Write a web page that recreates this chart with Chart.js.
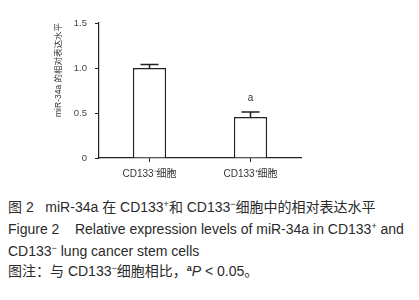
<!DOCTYPE html>
<html>
<head>
<meta charset="utf-8">
<script src="https://cdn.jsdelivr.net/npm/chart.js@4.4.1/dist/chart.umd.min.js"></script>
<style>
  html, body { margin: 0; padding: 0; background: #fff; }
  body { width: 419px; height: 300px; position: relative; overflow: hidden; }
  #wrap { position: absolute; left: 0; top: 0; width: 419px; height: 190px; }
  .cap {
    position: absolute; left: 8px; white-space: nowrap;
    font-family: "Liberation Sans", "Noto Sans CJK SC", sans-serif;
    font-size: 14px; line-height: 20px; color: #2a2a2a;
  }
  .cap sup { font-size: 9px; vertical-align: 5px; line-height: 0; }
</style>
</head>
<body>
<div id="wrap"><canvas id="barChart"></canvas></div>

<div class="cap" style="top:197px">图 2&nbsp;&nbsp;&nbsp;miR-34a 在 CD133<sup>+</sup>和 CD133<sup>−</sup>细胞中的相对表达水平</div>
<div class="cap" style="top:219px">Figure 2&nbsp;&nbsp;&nbsp;&nbsp;Relative expression levels of miR-34a in CD133<sup>+</sup> and</div>
<div class="cap" style="top:241px">CD133<sup>−</sup> lung cancer stem cells</div>
<div class="cap" style="top:261px">图注：与 CD133<sup>−</sup>细胞相比，<sup><b>a</b></sup><i>P</i> &lt; 0.05。</div>

<script>
// data
const categories = ["CD133⁻细胞", "CD133⁺细胞"];
const means = [1.0, 0.455];
const errors = [0.04, 0.055];
const sigLabels = ["", "a"];
const yTicks = [0, 0.5, 1.0, 1.5];

const fontFamily = '"Liberation Sans", "Noto Sans CJK SC", sans-serif';
const ink = "#222";

// error bars + significance letter
const errorBarPlugin = {
  id: "errorBars",
  afterDatasetsDraw(chart) {
    const ctx = chart.ctx;
    const yScale = chart.scales.y;
    const meta = chart.getDatasetMeta(0);
    ctx.save();
    ctx.strokeStyle = ink;
    ctx.lineWidth = 1.5;
    meta.data.forEach((bar, i) => {
      const yTop = yScale.getPixelForValue(means[i] + errors[i]);
      const yBar = yScale.getPixelForValue(means[i]);
      ctx.beginPath();
      ctx.moveTo(bar.x, yBar);
      ctx.lineTo(bar.x, yTop);
      ctx.moveTo(bar.x - 9, yTop);
      ctx.lineTo(bar.x + 9, yTop);
      ctx.stroke();
      if (sigLabels[i]) {
        ctx.fillStyle = "#333";
        ctx.font = "10px " + fontFamily;
        ctx.textAlign = "center";
        ctx.textBaseline = "middle";
        ctx.fillText(sigLabels[i], bar.x, yTop - 14);
      }
    });
    ctx.restore();
  },
};

const ctx = document.getElementById("barChart").getContext("2d");
new Chart(ctx, {
  type: "bar",
  data: {
    labels: categories,
    datasets: [
      {
        data: means,
        backgroundColor: "#fff",
        borderColor: ink,
        borderWidth: 1.5,
        borderSkipped: "bottom",
        barPercentage: 0.33,
        categoryPercentage: 1,
      },
    ],
  },
  options: {
    responsive: true,
    maintainAspectRatio: false,
    animation: false,
    layout: { padding: { left: 0, right: 118, top: 23, bottom: 0 } },
    plugins: {
      legend: { display: false },
      tooltip: { enabled: false },
    },
    scales: {
      x: {
        offset: true,
        border: { color: ink, width: 1.2 },
        grid: { offset: false, drawOnChartArea: false, drawTicks: true, tickLength: 4, color: ink },
        ticks: {
          color: "#333",
          padding: 6,
          font: { family: fontFamily, size: 10 },
        },
        afterFit: (scale) => { scale.height = 32; },
      },
      y: {
        min: 0,
        max: 1.5,
        border: { color: ink, width: 1.2 },
        grid: { drawOnChartArea: false, drawTicks: true, tickLength: 4, color: ink },
        afterBuildTicks: (scale) => {
          scale.ticks = yTicks.map((v) => ({ value: v }));
        },
        ticks: {
          color: "#444",
          padding: 8,
          font: { family: fontFamily, size: 9.5 },
          callback: (v) => (v === 0 ? "0" : Number(v).toFixed(1)),
        },
        title: {
          display: true,
          text: "miR-34a 的相对表达水平",
          align: "end",
          color: "#333",
          padding: { top: 54, bottom: 0 },
          font: { family: fontFamily, size: 8.5 },
        },
        afterFit: (scale) => { scale.width = 99; },
      },
    },
  },
  plugins: [errorBarPlugin],
});
</script>
</body>
</html>
